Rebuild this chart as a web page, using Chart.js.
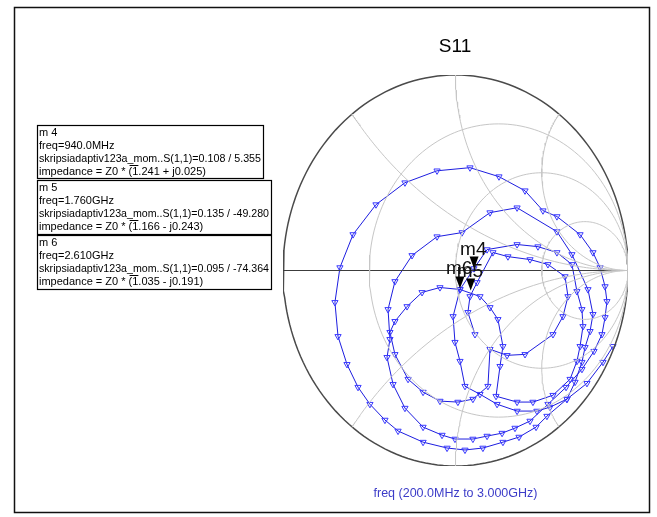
<!DOCTYPE html>
<html>
<head>
<meta charset="utf-8">
<script src="https://cdn.jsdelivr.net/npm/chart.js@4.4.1/dist/chart.umd.min.js"></script>
<style>
  html, body { margin: 0; padding: 0; background: #fff; }
  #wrap { width: 657px; height: 517px; }
</style>
</head>
<body>
<div id="wrap"><canvas id="smith" width="657" height="517"></canvas></div>
<script>
var s11Re = [
  0.913, 0.855, 0.762, 0.646, 0.530, 0.467, 0.368, 0.275, 0.159, 0.055, -0.049, -0.188, -0.333, -0.409, -0.496, -0.565, -0.629, -0.681, -0.699, -0.670, -0.594, -0.461, -0.293, -0.107, 0.084, 0.252, 0.403, 0.507, 0.588, 0.722, 0.797, 0.838, 0.867, 0.878, 0.867, 0.849,
  0.803, 0.733, 0.641, 0.536, 0.432, 0.345, 0.270, 0.183, 0.101, -0.003, -0.078, -0.188, -0.293, -0.362, -0.397, -0.380, -0.391, -0.351, -0.252, -0.107, 0.038, 0.200, 0.357, 0.588, 0.675, 0.768, 0.797, 0.780, 0.751, 0.733, 0.693,
  0.646, 0.548, 0.472, 0.357, 0.241, 0.142, 0.055, 0.026, -0.003, -0.014, 0.026, 0.107, 0.183, 0.357, 0.478, 0.588, 0.675, 0.704, 0.733, 0.739, 0.722, 0.704, 0.664,
  0.565, 0.449, 0.357, 0.235, 0.258, 0.275, 0.246, 0.200, 0.142, 0.026,
  -0.090, -0.194, -0.281, -0.351, -0.380, -0.351, -0.275, -0.188, -0.090, 0.014, 0.101, 0.188,
  0.200, 0.299, 0.403, 0.565, 0.623, 0.652, 0.635, 0.536, 0.432, 0.304, 0.217, 0.125, 0.084, 0.072, 0.113];
var s11Im = [
  -0.388, -0.469, -0.577, -0.658, -0.745, -0.801, -0.852, -0.878, -0.908, -0.918, -0.908, -0.878, -0.821, -0.765, -0.684, -0.597, -0.480, -0.337, -0.163, 0.015, 0.184, 0.337, 0.449, 0.510, 0.526, 0.480, 0.408, 0.306, 0.276, 0.184, 0.092, 0.015, -0.082, -0.158, -0.240, -0.327,
  -0.413, -0.505, -0.597, -0.684, -0.770, -0.806, -0.832, -0.847, -0.862, -0.862, -0.842, -0.801, -0.704, -0.582, -0.444, -0.352, -0.199, -0.056, 0.077, 0.173, 0.194, 0.296, 0.321, 0.199, 0.082, -0.097, -0.224, -0.311, -0.393, -0.469, -0.571,
  -0.658, -0.699, -0.719, -0.719, -0.684, -0.633, -0.592, -0.464, -0.367, -0.235, -0.097, 0.010, 0.107, 0.133, 0.122, 0.092, 0.031, -0.107, -0.199, -0.286, -0.388, -0.464, -0.556,
  -0.638, -0.673, -0.673, -0.643, -0.490, -0.388, -0.250, -0.189, -0.133, -0.097,
  -0.087, -0.112, -0.184, -0.260, -0.316, -0.429, -0.556, -0.622, -0.668, -0.673, -0.658, -0.592,
  -0.403, -0.434, -0.429, -0.327, -0.235, -0.133, -0.031, 0.031, 0.056, 0.071, 0.092, -0.061, -0.133, -0.214, -0.327];

// markers
var markerNames = ['m4', 'm5', 'm6'];
var markerFreq = ['940.0MHz', '1.760GHz', '2.610GHz'];
var markerMag = [0.108, 0.135, 0.095];
var markerAng = [5.355, -49.280, -74.364];
var markerZ = ['(1.241 + j0.025)', '(1.166 - j0.243)', '(1.035 - j0.191)'];

// smith grid
var gridR = [1 / 3, 1, 3];
var gridX = [0.5, 1, 2];

function gamma(r, x) {
  var dr = (r + 1) * (r + 1) + x * x;
  return { x: (r * r + x * x - 1) / dr, y: 2 * x / dr };
}
function rCircle(r) {
  var pts = [], c = r / (1 + r), rad = 1 / (1 + r);
  for (var i = 0; i <= 180; i++) {
    var a = i / 180 * 2 * Math.PI;
    pts.push({ x: c + rad * Math.cos(a), y: rad * Math.sin(a) });
  }
  return pts;
}
function xArc(x) {
  var pts = [gamma(0, x)];
  for (var i = 0; i <= 160; i++) {
    var r = Math.pow(10, -3 + i / 160 * 6);
    pts.push(gamma(r, x));
  }
  return pts;
}

var datasets = [];
var gridStyle = { showLine: true, pointRadius: 0, borderColor: '#c6c6c6', borderWidth: 1, fill: false };
gridR.forEach(function (r) {
  datasets.push(Object.assign({ data: rCircle(r) }, gridStyle));
});
gridX.forEach(function (x) {
  datasets.push(Object.assign({ data: xArc(x) }, gridStyle));
  datasets.push(Object.assign({ data: xArc(-x) }, gridStyle));
});
// real axis + unit circle
datasets.push({ data: [{ x: -1, y: 0 }, { x: 1, y: 0 }], showLine: true, pointRadius: 0, borderColor: '#3c3c3c', borderWidth: 1.2 });
datasets.push(Object.assign({ data: rCircle(0) }, gridStyle, { borderColor: '#4a4a4a', borderWidth: 1.5 }));

var trace = s11Re.map(function (v, i) { return { x: v, y: s11Im[i] }; });
datasets.push({
  data: trace,
  showLine: true,
  borderColor: '#1d1de0',
  borderWidth: 1,
  pointStyle: 'triangle',
  rotation: 180,
  pointRadius: 3.6,
  pointBorderWidth: 1,
  pointBorderColor: '#3a3aff',
  pointBackgroundColor: 'rgba(255,255,255,0)'
});

var decor = {
  id: 'decor',
  beforeDraw: function (chart) {
    var c = chart.ctx;
    c.save();
    c.fillStyle = '#fff';
    c.fillRect(0, 0, chart.width, chart.height);
    c.restore();
  },
  afterDraw: function (chart) {
    var c = chart.ctx, sx = chart.scales.x, sy = chart.scales.y;
    c.save();
    // frame
    c.strokeStyle = '#111';
    c.lineWidth = 1.5;
    c.strokeRect(14.5, 7.5, 635, 505);

    // title
    c.fillStyle = '#000';
    c.font = '19px "Liberation Sans", Arial, sans-serif';
    c.textAlign = 'center';
    c.textBaseline = 'alphabetic';
    c.fillText('S11', 455, 52);

    c.fillStyle = '#3c3cc8';
    c.font = '12.5px "Liberation Sans", Arial, sans-serif';
    c.fillText('freq (200.0MHz to 3.000GHz)', 455.5, 497);

    // marker triangles and labels
    c.textAlign = 'left';
    markerMag.forEach(function (m, i) {
      var a = markerAng[i] * Math.PI / 180;
      var px = sx.getPixelForValue(m * Math.cos(a));
      var py = sy.getPixelForValue(m * Math.sin(a));
      c.fillStyle = '#000';
      c.beginPath();
      c.moveTo(px, py);
      c.lineTo(px - 4.5, py - 12);
      c.lineTo(px + 4.5, py - 12);
      c.closePath();
      c.fill();
    });
    c.font = '19px "Liberation Sans", Arial, sans-serif';
    c.fillStyle = '#111';
    markerMag.forEach(function (m, i) {
      var a = markerAng[i] * Math.PI / 180;
      var px = sx.getPixelForValue(m * Math.cos(a));
      var py = sy.getPixelForValue(m * Math.sin(a));
      c.fillText(markerNames[i], px - 14, py - 14);
    });

    // marker readout boxes
    var boxes = [[37, 125, 226, 53], [37, 180, 234, 54], [37, 235, 234, 54]];
    c.font = '11px "Liberation Sans", Arial, sans-serif';
    markerNames.forEach(function (n, i) {
      var b = boxes[i];
      c.strokeStyle = '#000';
      c.lineWidth = 1.2;
      c.strokeRect(b[0] + 0.5, b[1] + 0.5, b[2], b[3]);
      c.fillStyle = '#000';
      var tx = b[0] + 2, ty = b[1] + 11;
      var ang = markerAng[i].toFixed(3);
      c.fillText(n.charAt(0) + ' ' + n.charAt(1), tx, ty);
      c.fillText('freq=' + markerFreq[i], tx, ty + 13);
      c.fillText('skripsiadaptiv123a_mom..S(1,1)=' + markerMag[i].toFixed(3) + ' / ' + ang, tx, ty + 26, b[2] - 4);
      var pre = 'impedance = Z0 * ';
      c.fillText(pre + markerZ[i], tx, ty + 39);
      // overline drawn above "(1"
      var x0 = tx + c.measureText(pre).width;
      var x1 = x0 + c.measureText('(1').width;
      c.lineWidth = 1;
      c.beginPath();
      c.moveTo(x0 + 1, ty + 29.5);
      c.lineTo(x1, ty + 29.5);
      c.stroke();
    });
    c.restore();
  }
};

new Chart(document.getElementById('smith').getContext('2d'), {
  type: 'scatter',
  data: { datasets: datasets },
  options: {
    responsive: false,
    devicePixelRatio: 1,
    animation: false,
    events: [],
    layout: { padding: { left: 283, right: 29, top: 75, bottom: 51 } },
    scales: {
      x: { type: 'linear', min: -1, max: 1, display: false },
      y: { type: 'linear', min: -1, max: 1, display: false }
    },
    plugins: { legend: { display: false }, tooltip: { enabled: false } }
  },
  plugins: [decor]
});
</script>
</body>
</html>
